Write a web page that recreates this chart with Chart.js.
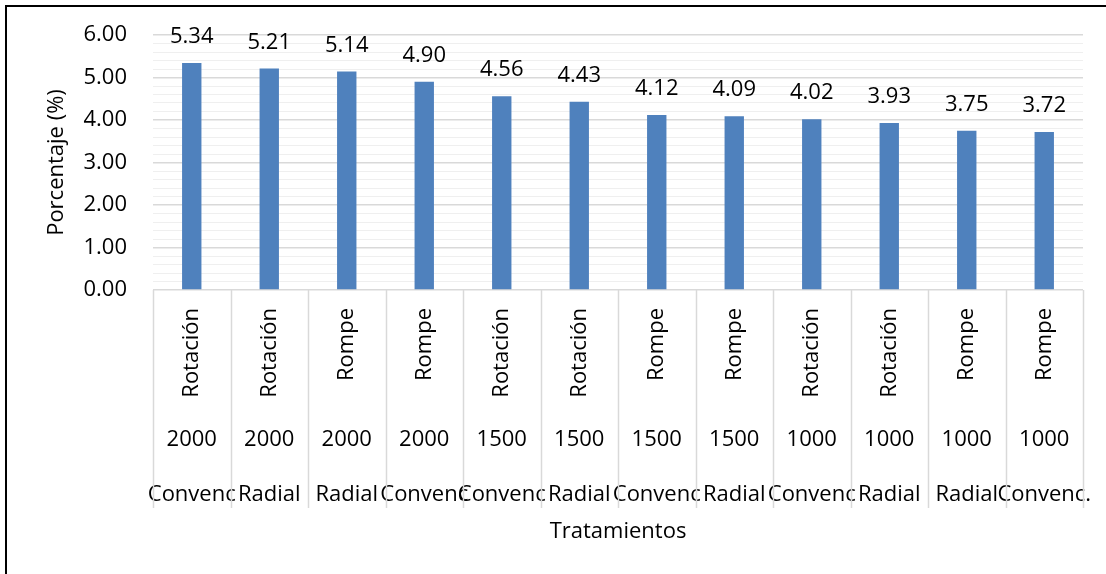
<!DOCTYPE html>
<html>
<head>
<meta charset="utf-8">
<script src="https://cdn.jsdelivr.net/npm/chart.js@4/dist/chart.umd.min.js"></script>
<style>
  body { margin: 0; background: #fff; }
  #frame { position: absolute; left: 5px; top: 5px; width: 1200px; height: 700px; border-top: 2px solid #000; border-left: 2px solid #000; }
  #wrap { position: absolute; left: 0; top: 0; width: 1106px; height: 574px; }
</style>
</head>
<body>
<div id="frame"></div>
<div id="wrap"><canvas id="barChart"></canvas></div>
<script>
// Three levels of the category axis, from the bars down.
const methods = ["Rotación", "Rotación", "Rompe", "Rompe", "Rotación", "Rotación", "Rompe", "Rompe", "Rotación", "Rotación", "Rompe", "Rompe"];
const doses = ["2000", "2000", "2000", "2000", "1500", "1500", "1500", "1500", "1000", "1000", "1000", "1000"];
const types = ["Convenc", "Radial", "Radial", "Convenc", "Convenc", "Radial", "Convenc", "Radial", "Convenc", "Radial", "Radial", "Convenc."];
const values = [5.34, 5.21, 5.14, 4.90, 4.56, 4.43, 4.12, 4.09, 4.02, 3.93, 3.75, 3.72];

Chart.defaults.font.family = "'Open Sans'";
Chart.defaults.font.size = 22;
Chart.defaults.color = "#000";

const isMajor = (v) => Math.abs(v - Math.round(v)) < 1e-6;

// Fixed axis sizes, no extra room for labels that spill over the ends.
const fixHeight = (h) => (s) => {
    s.height = h;
    s.paddingLeft = 0;
    s.paddingRight = 0;
    s.paddingTop = 0;
    s.paddingBottom = 0;
};

// Vertical separators between categories, under the plot area.
const dividers = {
    id: "dividers",
    afterDraw(chart) {
        const ctx = chart.ctx;
        const x = chart.scales.x;
        const x3 = chart.scales.x3;
        const bottom = x3.top + 55;
        ctx.save();
        ctx.strokeStyle = "#d9d9d9";
        ctx.lineWidth = 1.5;
        for (let i = 0; i <= methods.length; i++) {
            const px = Math.round(x.getPixelForValue(i - 0.5)) + 0.5;
            ctx.beginPath();
            ctx.moveTo(px, chart.chartArea.bottom);
            ctx.lineTo(px, bottom);
            ctx.stroke();
        }
        ctx.restore();
    }
};

// Value labels above each bar.
const valueLabels = {
    id: "valueLabels",
    afterDatasetsDraw(chart) {
        const ctx = chart.ctx;
        ctx.save();
        ctx.font = "22px 'Open Sans'";
        ctx.fillStyle = "#000";
        ctx.textAlign = "center";
        ctx.textBaseline = "middle";
        chart.getDatasetMeta(0).data.forEach((bar, i) => {
            ctx.fillText(values[i].toFixed(2), bar.x, bar.y - 26);
        });
        ctx.restore();
    }
};

new Chart(document.getElementById("barChart"), {
    type: "bar",
    data: {
        labels: methods,
        datasets: [{
            data: values,
            backgroundColor: "#4f81bd",
            borderWidth: 0,
            categoryPercentage: 1,
            barPercentage: 0.25
        }]
    },
    options: {
        responsive: true,
        maintainAspectRatio: false,
        animation: false,
        layout: { padding: { left: 44, right: 23, top: 35, bottom: 27 } },
        plugins: { legend: { display: false }, tooltip: { enabled: false } },
        scales: {
            y: {
                min: 0,
                max: 6,
                border: { display: false },
                grid: {
                    drawTicks: false,
                    color: (c) => isMajor(c.tick.value) ? "#d9d9d9" : "#efefef",
                    lineWidth: (c) => isMajor(c.tick.value) ? 1.5 : 1
                },
                ticks: {
                    stepSize: 0.2,
                    autoSkip: false,
                    padding: 26,
                    callback: (v) => isMajor(v) ? v.toFixed(2) : ""
                },
                title: { display: true, text: "Porcentaje (%)", padding: { top: 0, bottom: 13 } },
                afterFit: (s) => { s.width = 109; s.paddingTop = 0; s.paddingBottom = 0; }
            },
            x: {
                border: { display: false },
                grid: { display: false, drawTicks: false },
                ticks: { autoSkip: false, minRotation: 90, maxRotation: 90, padding: 18 },
                afterFit: fixHeight(110)
            },
            x2: {
                type: "category",
                position: "bottom",
                labels: doses,
                offset: true,
                border: { display: false },
                grid: { display: false, drawTicks: false },
                ticks: { autoSkip: false, minRotation: 0, maxRotation: 0, padding: 27 },
                afterFit: fixHeight(53)
            },
            x3: {
                type: "category",
                position: "bottom",
                labels: types,
                offset: true,
                border: { display: false },
                grid: { display: false, drawTicks: false },
                ticks: { autoSkip: false, minRotation: 0, maxRotation: 0, padding: 29 },
                title: { display: true, text: "Tratamientos", padding: { top: 10, bottom: 2 } },
                afterFit: fixHeight(94)
            }
        }
    },
    plugins: [dividers, valueLabels]
});
</script>
</body>
</html>
